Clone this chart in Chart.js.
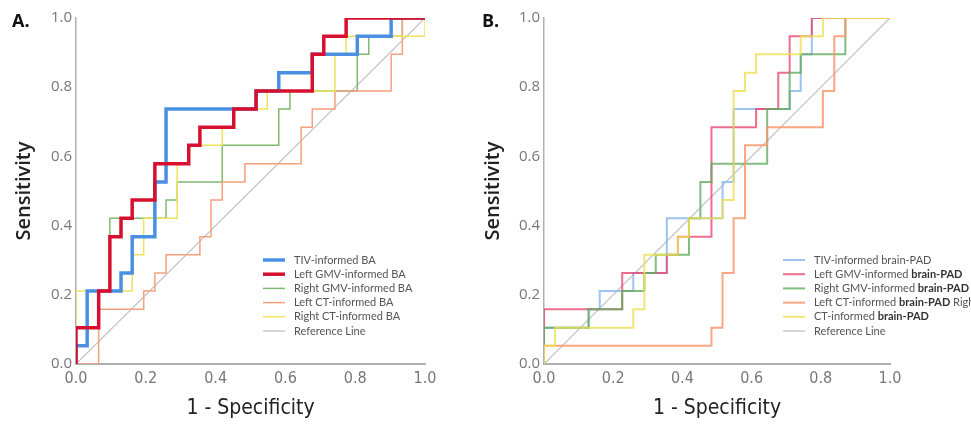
<!DOCTYPE html>
<html>
<head>
<meta charset="utf-8">
<script src="https://cdn.jsdelivr.net/npm/chart.js@4.4.1/dist/chart.umd.min.js"></script>
<style>
  html, body { margin: 0; padding: 0; background: #fff; }
  body { width: 971px; height: 428px; position: relative; overflow: hidden; }
  .panel { position: absolute; top: 0; height: 428px; }
  #wrapA { left: 0; width: 470px; }
  #wrapB { left: 470px; width: 501px; }
  .tag { position: absolute; top: 8px; font: 700 18px "Open Sans", sans-serif; color: #111; }
</style>
</head>
<body>
<div class="panel" id="wrapA"><canvas id="rocA"></canvas></div>
<div class="panel" id="wrapB"><canvas id="rocB"></canvas></div>
<div class="tag" style="left:12px">A.</div>
<div class="tag" style="left:482px">B.</div>
<script>
// tick labels (both axes, both panels)
const tickVals = [0, 0.2, 0.4, 0.6, 0.8, 1.0];

// Panel A - brain age (1 - specificity / sensitivity)
const fprA_tiv  = [0, .032, .129, .161, .226, .258, .516, .581, .677, .806, .903, 1];
const tprA_tiv  = [0, .053, .211, .263, .368, .526, .737, .789, .842, .895, .947, 1];
const fprA_lgmv = [0, .065, .097, .129, .161, .226, .323, .355, .452, .516, .677, .710, .774, 1];
const tprA_lgmv = [0, .105, .211, .368, .421, .474, .579, .632, .684, .737, .789, .895, .947, 1];
const fprA_rgmv = [0, .065, .097, .258, .290, .419, .581, .613, .806, .839, .935, 1];
const tprA_rgmv = [0, .105, .211, .421, .474, .526, .632, .737, .789, .895, .947, 1];
const fprA_lct  = [0, .065, .194, .226, .258, .355, .387, .419, .484, .645, .677, .742, .903, .935, 1];
const tprA_lct  = [0, 0, .158, .211, .263, .316, .368, .474, .526, .579, .684, .737, .789, .895, 1];
const fprA_rct  = [0, .161, .194, .290, .323, .419, .452, .548, .742, .774, 1, 1];
const tprA_rct  = [0, .211, .316, .421, .579, .632, .684, .737, .789, .895, .947, 1];

// Panel B - brain-PAD
const fprB_tiv  = [0, .129, .161, .258, .355, .516, .548, .710, .742, .774, 1];
const tprB_tiv  = [0, .105, .158, .211, .263, .421, .526, .737, .789, .895, 1];
const fprB_lgmv = [0, .226, .355, .387, .484, .613, .677, .710, .774, 1];
const tprB_lgmv = [0, .158, .263, .316, .368, .684, .737, .842, .947, 1];
const fprB_rgmv = [0, .129, .226, .290, .323, .419, .452, .484, .645, .710, .742, .871, 1];
const tprB_rgmv = [0, .105, .158, .211, .263, .316, .421, .526, .579, .737, .842, .895, 1];
const fprB_lct  = [0, .484, .516, .548, .581, .645, .806, .839, .871, 1];
const tprB_lct  = [0, .053, .105, .263, .421, .632, .684, .789, .947, 1];
const fprB_rct  = [0, .032, .258, .290, .387, .419, .516, .548, .581, .613, .742, .806, 1];
const tprB_rct  = [0, .053, .105, .158, .316, .368, .421, .474, .789, .842, .895, .947, 1];

// diagonal
const refFpr = [0, 1];
const refTpr = [0, 1];

const namesA = ['TIV-informed BA', 'Left GMV-informed BA', 'Right GMV-informed BA',
                'Left CT-informed BA', 'Right CT-informed BA', 'Reference Line'];
// legend B has mixed bold runs
const legendB = [
  [['TIV-informed brain-PAD', false]],
  [['Left GMV-informed ', false], ['brain-PAD', true]],
  [['Right GMV-informed ', false], ['brain-PAD', true]],
  [['Left CT-informed ', false], ['brain-PAD', true], [' Right', false]],
  [['CT-informed ', false], ['brain-PAD', true]],
  [['Reference Line', false]]
];

const pts = (xs, ys) => xs.map((x, i) => ({ x: x, y: ys[i] }));

// draws the little legend box inside the plot
const rocLegend = {
  id: 'rocLegend',
  afterDatasetsDraw(chart, args, opts) {
    const ctx = chart.ctx;
    ctx.save();
    ctx.textBaseline = 'middle';
    opts.items.forEach((segs, i) => {
      const ds = chart.data.datasets[i];
      const y = opts.top + i * opts.rowGap;
      ctx.strokeStyle = ds.borderColor;
      ctx.lineWidth = ds.borderWidth;
      ctx.beginPath();
      ctx.moveTo(opts.left, y);
      ctx.lineTo(opts.left + opts.lineLen, y);
      ctx.stroke();
      let x = opts.left + opts.lineLen + opts.gap;
      segs.forEach(s => {
        ctx.font = (s[1] ? '700 ' : '400 ') + opts.fontSize + 'px Lato, sans-serif';
        ctx.fillStyle = s[1] ? '#333' : '#555';
        ctx.fillText(s[0], x, y);
        x += ctx.measureText(s[0]).width;
      });
    });
    ctx.restore();
  }
};

const narrow = '"Liberation Sans Narrow", "DejaVu Sans Condensed", "Roboto", sans-serif';

function makeRoc(id, series, colors, widths, legendItems, legendLeft, axisW, rightPad, titlePad) {
  const datasets = series.map((s, i) => ({
    label: s.label,
    data: pts(s.fpr, s.tpr),
    borderColor: colors[i],
    borderWidth: widths[i],
    stepped: s.ref ? false : 'after',
    pointRadius: 0,
    fill: false,
    tension: 0,
    borderJoinStyle: 'miter',
    order: s.order
  }));

  new Chart(document.getElementById(id), {
    type: 'line',
    data: { datasets: datasets },
    options: {
      responsive: true,
      maintainAspectRatio: false,
      animation: false,
      layout: { padding: { top: 18, right: rightPad, bottom: 0, left: 0 } },
      plugins: {
        legend: { display: false },
        tooltip: { enabled: false },
        rocLegend: { items: legendItems, left: legendLeft, top: 260, rowGap: 14.2, lineLen: 22, gap: 9, fontSize: 11 }
      },
      scales: {
        x: {
          type: 'linear', min: 0, max: 1,
          afterBuildTicks: s => { s.ticks = tickVals.map(v => ({ value: v })); },
          afterFit: s => { s.height = 64; },
          grid: { display: false, drawTicks: false },
          border: { display: true, color: '#b0b0b0', width: 2 },
          ticks: { padding: 5, color: '#777', font: { family: narrow, size: 16 }, callback: v => v.toFixed(1) },
          title: { display: true, text: '1 - Specificity', color: '#222', font: { family: narrow, size: 21 }, padding: { top: 0, bottom: 7 } }
        },
        y: {
          type: 'linear', min: 0, max: 1,
          afterBuildTicks: s => { s.ticks = tickVals.map(v => ({ value: v })); },
          afterFit: s => { s.width = axisW; },
          grid: { display: false, drawTicks: false },
          border: { display: true, color: '#b0b0b0', width: 1.5 },
          ticks: { padding: 4, color: '#777', font: { family: '"Open Sans", sans-serif', size: 15 }, callback: v => v.toFixed(1) },
          title: { display: true, text: 'Sensitivity', color: '#222', font: { family: '"Open Sans", sans-serif', size: 20, weight: '600' }, padding: { top: titlePad, bottom: 0 } }
        }
      }
    },
    plugins: [rocLegend]
  });
}

makeRoc('rocA', [
  { label: namesA[0], fpr: fprA_tiv,  tpr: tprA_tiv,  order: 1 },
  { label: namesA[1], fpr: fprA_lgmv, tpr: tprA_lgmv, order: 0 },
  { label: namesA[2], fpr: fprA_rgmv, tpr: tprA_rgmv, order: 4 },
  { label: namesA[3], fpr: fprA_lct,  tpr: tprA_lct,  order: 3 },
  { label: namesA[4], fpr: fprA_rct,  tpr: tprA_rct,  order: 2 },
  { label: namesA[5], fpr: refFpr,    tpr: refTpr,    order: 9, ref: true }
], ['#4a90e2', '#d7102f', '#7dba6d', '#f6a07c', '#efe35c', '#bdbdbd'],
   [3.5, 3.5, 1.5, 1.5, 1.5, 1.2],
   namesA.map(n => [[n, false]]), 263, 76, 45, 12);

makeRoc('rocB', [
  { label: 'TIV', fpr: fprB_tiv,  tpr: tprB_tiv,  order: 5 },
  { label: 'Left GMV', fpr: fprB_lgmv, tpr: tprB_lgmv, order: 4 },
  { label: 'Right GMV', fpr: fprB_rgmv, tpr: tprB_rgmv, order: 3 },
  { label: 'Left CT', fpr: fprB_lct,  tpr: tprB_lct,  order: 2 },
  { label: 'Right CT', fpr: fprB_rct,  tpr: tprB_rct,  order: 1 },
  { label: 'Reference Line', fpr: refFpr, tpr: refTpr, order: 9, ref: true }
], ['rgba(140,185,238,0.85)', 'rgba(232,72,112,0.8)', 'rgba(98,172,94,0.8)', 'rgba(248,150,108,0.85)', 'rgba(238,224,80,0.8)', '#bdbdbd'],
   [2, 2, 2, 2, 2, 1.2],
   legendB, 313, 74, 81, 11);
</script>
</body>
</html>
